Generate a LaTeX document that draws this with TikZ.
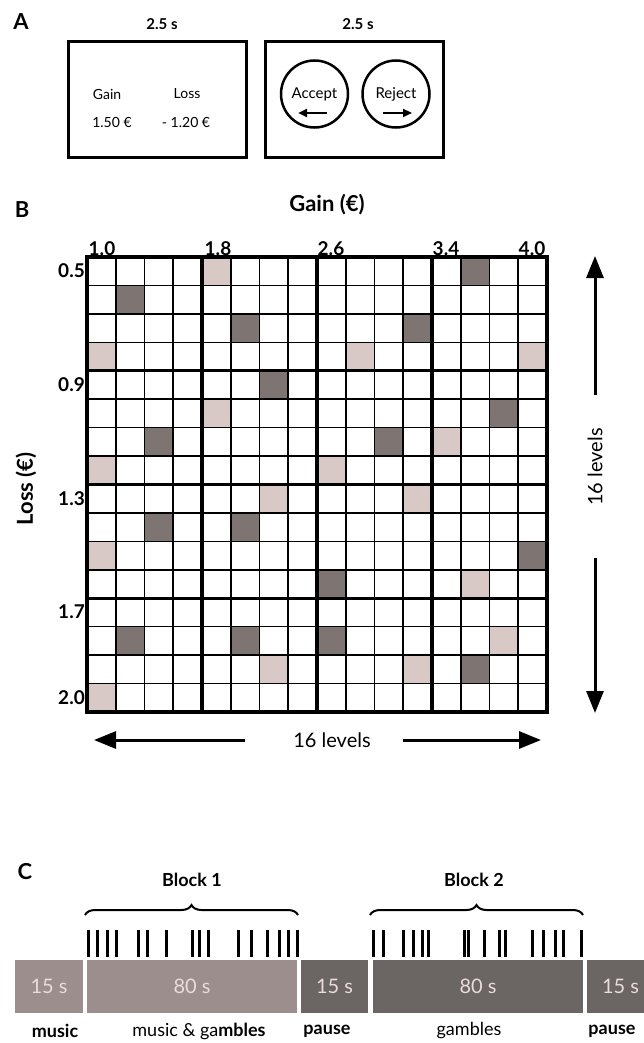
\documentclass[tikz,border=0pt]{standalone}
\usepackage{fontspec}
\setmainfont{Lato}
\usetikzlibrary{arrows.meta,decorations.pathreplacing}
\definecolor{darkcell}{HTML}{7E7472}
\definecolor{lightcell}{HTML}{D8C8C6}
\definecolor{barA}{HTML}{9B8E8C}
\definecolor{barB}{HTML}{6B6564}
\definecolor{bartext}{HTML}{EADCD9}
\begin{document}
\begin{tikzpicture}[x=1pt,y=-1pt,
  panel/.style={inner sep=0pt,font=\fontsize{22}{22}\selectfont\bfseries},
  hdr/.style={inner sep=0pt,font=\fontsize{15}{15}\selectfont\bfseries},
  axt/.style={inner sep=0pt,font=\fontsize{22}{22}\selectfont\bfseries},
  num/.style={inner sep=0pt,font=\fontsize{19}{19}\selectfont\bfseries},
  txt/.style={inner sep=0pt,font=\fontsize{14}{14}\selectfont},
  lvl/.style={inner sep=0pt,font=\fontsize{20}{20}\selectfont},
  screen/.style={draw,line width=3pt,minimum width=178pt,minimum height=116pt,inner sep=0pt},
  keycircle/.style={draw,circle,line width=2.5pt,minimum size=67pt,inner sep=0pt},
  smallarrow/.style={line width=2.5pt,-{Triangle[length=9pt,width=8pt]}},
  bigarrow/.style={line width=3pt,-{Triangle[length=22pt,width=17pt]}},
  bar/.style={inner sep=0pt,minimum height=53pt,text=bartext,font=\fontsize{20}{20}\selectfont},
  tick/.style={line width=3pt},
  blockbrace/.style={line width=2pt,decorate,decoration={brace,amplitude=10pt}},
  blk/.style={inner sep=0pt,font=\fontsize{18}{18}\selectfont\bfseries},
  lbl/.style={inner sep=0pt,font=\fontsize{18}{18}\selectfont},
  lblb/.style={inner sep=0pt,font=\fontsize{18}{18}\selectfont\bfseries}
]
\useasboundingbox (0,0) rectangle (643,1043);

% ---------- Panel A ----------
\node[panel] (lA) at (21,22) {A};
\node[hdr] (t1) at (162,24) {2.5 s};
\node[hdr] (t2) at (358,24) {2.5 s};
\node[screen] (scr1) at (157,100) {};
\node[screen] (scr2) at (354,100) {};
\node[txt] (gain) at (107,94) {Gain};
\node[txt] (loss) at (187,94) {Loss};
\node[txt] (gv) at (112,122) {1.50 €};
\node[txt] (lv) at (186,122) {- 1.20 €};
\node[keycircle] (cacc) at (314.5,94) {};
\node[keycircle] (crej) at (396,94) {};
\node[txt,font=\fontsize{15}{15}\selectfont] (acc) at (314.5,94) {Accept};
\node[txt,font=\fontsize{15}{15}\selectfont] (rej) at (396,94) {Reject};
\coordinate (aL1) at (327,113);
\coordinate (aL2) at (298,113);
\coordinate (aR1) at (383,113);
\coordinate (aR2) at (412,113);
\draw[smallarrow] (aL1) -- (aL2);
\draw[smallarrow] (aR1) -- (aR2);

% ---------- Panel B ----------
\node[panel] (lB) at (22,210) {B};
\node[axt] (gaint) at (327,205) {Gain (€)};
\def\gx{87}\def\gy{257}\def\cw{28.75}\def\ch{28.4375}
\foreach \r/\c in {1/14,2/2,3/6,3/12,5/7,6/15,7/3,7/11,10/3,10/6,11/16,12/9,14/2,14/6,14/9,15/14}
  \fill[darkcell] ({\gx+(\c-1)*\cw},{\gy+(\r-1)*\ch}) rectangle ++(\cw,\ch);
\foreach \r/\c in {1/5,4/1,4/10,4/16,6/5,7/13,8/1,8/9,9/7,9/12,11/1,12/14,14/15,15/7,15/12,16/1}
  \fill[lightcell] ({\gx+(\c-1)*\cw},{\gy+(\r-1)*\ch}) rectangle ++(\cw,\ch);
\foreach \i in {1,2,3,5,6,7,9,10,11,13,14,15}{
  \draw[line width=1.6pt] ({\gx+\i*\cw},\gy) -- ({\gx+\i*\cw},{\gy+16*\ch});
  \draw[line width=1.6pt] (\gx,{\gy+\i*\ch}) -- ({\gx+16*\cw},{\gy+\i*\ch});
}
\foreach \i in {0,4,8,12,16}{
  \draw[line width=3.2pt] ({\gx+\i*\cw},{\gy-1.6}) -- ({\gx+\i*\cw},{\gy+16*\ch+1.6});
  \draw[line width=3.2pt] ({\gx-1.6},{\gy+\i*\ch}) -- ({\gx+16*\cw+1.6},{\gy+\i*\ch});
}
\node[num,anchor=base] (c1) at (102,255) {1.0};
\node[num,anchor=base] (c5) at (218,255) {1.8};
\node[num,anchor=base] (c9) at (331,255) {2.6};
\node[num,anchor=base] (c13) at (446,255) {3.4};
\node[num,anchor=base] (c16) at (532,255) {4.0};
\node[num,anchor=east] (r1) at (85,271) {0.5};
\node[num,anchor=east] (r5) at (85,385) {0.9};
\node[num,anchor=east] (r9) at (85,499) {1.3};
\node[num,anchor=east] (r13) at (85,612) {1.7};
\node[num,anchor=east] (r16) at (85,698) {2.0};
\node[axt,rotate=90] (losst) at (26,489) {Loss (€)};

\node[lvl,rotate=90] (vlev) at (595,467) {16 levels};
\coordinate (vu1) at (595,395);
\coordinate (vu2) at (595,256);
\coordinate (vd1) at (595,558);
\coordinate (vd2) at (595,713);
\draw[bigarrow] (vu1) -- (vu2);
\draw[bigarrow] (vd1) -- (vd2);
\node[lvl] (hlev) at (332,740) {16 levels};
\coordinate (hl1) at (245,740);
\coordinate (hl2) at (94,740);
\coordinate (hr1) at (403,740);
\coordinate (hr2) at (541,740);
\draw[bigarrow] (hl1) -- (hl2);
\draw[bigarrow] (hr1) -- (hr2);

% ---------- Panel C ----------
\node[panel] (lC) at (25,872) {C};
\node[blk] (bl1) at (192,880) {Block 1};
\node[blk] (bl2) at (474,880) {Block 2};
\coordinate (br1a) at (85,915);
\coordinate (br1b) at (298,915);
\coordinate (br2a) at (370,915);
\coordinate (br2b) at (583,915);
\draw[blockbrace] (br1a) -- (br1b);
\draw[blockbrace] (br2a) -- (br2b);
\foreach \x in {88,97,107,116,138,147,166,192,199,208,238,251,267,279,288,297,
                373,383,403,413,422,428,464,468,484,499,505,532,543,555,563,581}
  \draw[tick] (\x,930) -- (\x,957);
\node[bar,fill=barA,minimum width=68pt] (s1) at (49,986.5) {15 s};
\node[bar,fill=barA,minimum width=210pt] (s2) at (192,986.5) {80 s};
\node[bar,fill=barB,minimum width=67pt] (s3) at (334.5,986.5) {15 s};
\node[bar,fill=barB,minimum width=210pt] (s4) at (478,986.5) {80 s};
\node[bar,fill=barB,minimum width=67pt] (s5) at (620.5,986.5) {15 s};
\node[lblb] (m1) at (55,1031) {music};
\node[lbl] (m2) at (199,1031) {music \& ga\textbf{mbles}};
\node[lblb] (m3) at (327,1031) {pause};
\node[lbl] (m4) at (469,1031) {gambles};
\node[lblb] (m5) at (612,1031) {pause};
\end{tikzpicture}
\end{document}
